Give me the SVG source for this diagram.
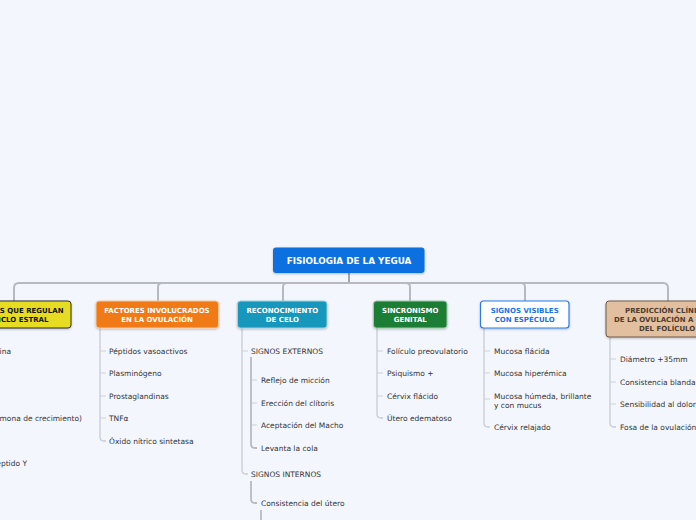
<svg xmlns="http://www.w3.org/2000/svg" width="696" height="520" viewBox="0 0 696 520">
<defs>
<filter id="sh" x="-10%" y="-20%" width="120%" height="150%">
<feDropShadow dx="0" dy="1" stdDeviation="0.8" flood-color="#000" flood-opacity="0.25"/>
</filter>
</defs>
<style>
.t{font-family:"DejaVu Sans","Verdana",sans-serif;font-size:7.5px;fill:#353535}
.nt{font-family:"DejaVu Sans","Verdana",sans-serif;font-size:7px;font-weight:bold;text-anchor:middle}
.w{fill:#ffffff}
.main{fill:none;stroke:#b6b9c0;stroke-width:2}
.ch{fill:none;stroke:#c8cbd2;stroke-width:1.3}
.tk{fill:none;stroke:#cdd0d6;stroke-width:1}
.sub{fill:none;stroke:#b8bbc2;stroke-width:1.8}
</style>
<rect width="696" height="520" fill="#f3f6fd"/>

<g id="connectors">
<path d="M349 273 V283" fill="none" stroke="#a3a6ac" stroke-width="2"/>
<path class="main" d="M14 301 V288 Q14 283 19 283 H663 Q668 283 668 288 V301"/>
<path class="main" d="M162 283 Q158 283 158 287 V301"/>
<path class="main" d="M287 283 Q283 283 283 287 V301"/>
<path class="main" d="M406 283 Q410 283 410 287 V301"/>
<path class="main" d="M521 283 Q525 283 525 287 V301"/>
<path class="ch" d="M100 328 V437 Q100 441 104 441 H106"/>
<path class="tk" d="M100 351 H106 M100 373 H106 M100 396 H106 M100 418 H106"/>
<path class="ch" d="M242 328 V470 Q242 474 246 474 H248"/>
<path class="tk" d="M242 351 H248"/>
<path class="sub" d="M251 357 V444 Q251 448 255 448 H257"/>
<path class="tk" d="M252 380 H257 M252 403 H257 M252 425 H257"/>
<path class="sub" d="M251 481 V499 Q251 503 255 503 H257"/>
<path class="sub" d="M261 510 V520"/>
<path class="ch" d="M377 328 V414 Q377 418 381 418 H383"/>
<path class="tk" d="M377 351 H383 M377 373 H383 M377 396 H383"/>
<path class="ch" d="M484 328 V423 Q484 427 488 427 H490"/>
<path class="tk" d="M484 351 H490 M484 373 H490 M484 399 H490"/>
<path class="ch" d="M610 337 V423 Q610 427 614 427 H616"/>
<path class="tk" d="M610 359 H616 M610 382 H616 M610 404 H616"/>
</g>

<g id="root">
<rect x="273" y="247.5" width="151.5" height="25.5" rx="3" fill="#0b6fe0" filter="url(#sh)"/>
<text class="nt w" x="349" y="264" style="font-size:8.8px">FISIOLOGIA DE LA YEGUA</text>
</g>

<g id="hormonas">
<rect x="-43" y="301" width="114" height="27" rx="3" fill="#e6dd22" stroke="#2e2e2e" stroke-width="1" filter="url(#sh)"/>
<text class="nt" x="63.5" y="313.3" fill="#111" text-anchor="end" style="text-anchor:end">HORMONAS QUE REGULAN</text>
<text class="nt" x="48.5" y="322.3" fill="#111" text-anchor="end" style="text-anchor:end">EL CICLO ESTRAL</text>
</g>
<g id="hormonas-children">
<text class="t" x="11" y="354" text-anchor="end">Melatonina</text>
<text class="t" x="82" y="421" text-anchor="end">GH (hormona de crecimiento)</text>
<text class="t" x="27" y="466" text-anchor="end">Neuropéptido Y</text>
</g>

<g id="factores">
<rect x="96" y="301" width="122.5" height="27" rx="3" fill="#ef7a12" stroke="#f7c9a0" stroke-width="1" filter="url(#sh)"/>
<text class="nt w" x="157" y="313.3">FACTORES INVOLUCRADOS</text>
<text class="nt w" x="157" y="322.3">EN LA OVULACIÓN</text>
</g>
<g id="factores-children">
<text class="t" x="109" y="354">Péptidos vasoactivos</text>
<text class="t" x="109" y="376">Plasminógeno</text>
<text class="t" x="109" y="399">Prostaglandinas</text>
<text class="t" x="109" y="421">TNFα</text>
<text class="t" x="109" y="444">Óxido nítrico sintetasa</text>
</g>

<g id="reconocimiento">
<rect x="237.5" y="301" width="89.5" height="27" rx="3" fill="#1597bb" stroke="#9fd2e2" stroke-width="1" filter="url(#sh)"/>
<text class="nt w" x="282.3" y="313.3">RECONOCIMIENTO</text>
<text class="nt w" x="282.3" y="322.3">DE CELO</text>
</g>
<g id="signos-externos">
<text class="t" x="251" y="354">SIGNOS EXTERNOS</text>
</g>
<g id="externos-children">
<text class="t" x="261" y="383">Reflejo de micción</text>
<text class="t" x="261" y="406">Erección del clítoris</text>
<text class="t" x="261" y="428">Aceptación del Macho</text>
<text class="t" x="261" y="451">Levanta la cola</text>
</g>
<g id="signos-internos">
<text class="t" x="251" y="477">SIGNOS INTERNOS</text>
</g>
<g id="internos-children">
<text class="t" x="261" y="506">Consistencia del útero</text>
</g>

<g id="sincronismo">
<rect x="373.5" y="301" width="73.5" height="27" rx="3" fill="#1b7e35" stroke="#9cc9a6" stroke-width="1" filter="url(#sh)"/>
<text class="nt w" x="410.3" y="313.3">SINCRONISMO</text>
<text class="nt w" x="410.3" y="322.3">GENITAL</text>
</g>
<g id="sincronismo-children">
<text class="t" x="387" y="354">Folículo preovulatorio</text>
<text class="t" x="387" y="376">Psiquismo +</text>
<text class="t" x="387" y="399">Cérvix flácido</text>
<text class="t" x="387" y="421">Útero edematoso</text>
</g>

<g id="signos-visibles">
<rect x="480.5" y="301" width="88.5" height="27" rx="3" fill="#ffffff" stroke="#2a7de8" stroke-width="1.2" filter="url(#sh)"/>
<text class="nt" x="524.7" y="313.3" fill="#1a73e6">SIGNOS VISIBLES</text>
<text class="nt" x="524.7" y="322.3" fill="#1a73e6">CON ESPÉCULO</text>
</g>
<g id="visibles-children">
<text class="t" x="494" y="354">Mucosa flácida</text>
<text class="t" x="494" y="376">Mucosa hiperémica</text>
<text class="t" x="494" y="399">Mucosa húmeda, brillante</text>
<text class="t" x="494" y="408">y con mucus</text>
<text class="t" x="494" y="430">Cérvix relajado</text>
</g>

<g id="prediccion">
<rect x="606" y="301" width="124" height="36" rx="3" fill="#e2c09f" stroke="#6f5a48" stroke-width="1" filter="url(#sh)"/>
<text class="nt" x="625" y="313.3" fill="#4e3c2e" style="text-anchor:start">PREDICCIÓN CLÍNICA</text>
<text class="nt" x="614" y="322.3" fill="#4e3c2e" style="text-anchor:start">DE LA OVULACIÓN A TRAVÉS</text>
<text class="nt" x="639" y="331" fill="#4e3c2e" style="text-anchor:start">DEL FOLÍCULO</text>
</g>
<g id="prediccion-children">
<text class="t" x="620" y="362">Diámetro +35mm</text>
<text class="t" x="620" y="385">Consistencia blanda</text>
<text class="t" x="620" y="407">Sensibilidad al dolor</text>
<text class="t" x="620" y="430">Fosa de la ovulación</text>
</g>
</svg>
